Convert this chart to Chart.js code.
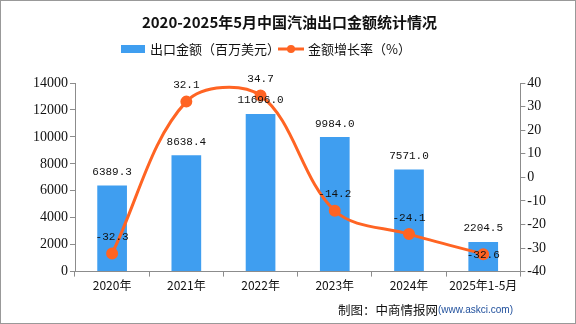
<!DOCTYPE html>
<html>
<head>
<meta charset="utf-8">
<script src="https://cdn.jsdelivr.net/npm/chart.js@4/dist/chart.umd.min.js"></script>
<style>
  html, body { margin: 0; padding: 0; background: #fff; }
  #wrap { width: 576px; height: 324px; position: relative; }
</style>
</head>
<body>
<div id="wrap"><canvas id="exportChart"></canvas></div>
<script>
// 年份与数值
var years = ['2020年', '2021年', '2022年', '2023年', '2024年', '2025年1-5月'];
var exportValue = [6389.3, 8638.4, 11696.0, 9984.0, 7571.0, 2204.5];   // 百万美元
var growthRate = [-32.3, 32.1, 34.7, -14.2, -24.1, -32.6];            // %

var BAR_COLOR = '#3f9ef0';
var LINE_COLOR = '#ff6423';
var AXIS_COLOR = '#8c8c8c';
var CJK = '"Noto Sans CJK SC", sans-serif';

function plain(v) { return String(v); }

// 图例、数值标签、来源、外框
var decorPlugin = {
  id: 'decor',
  afterDatasetsDraw: function(chart) {
    var ctx = chart.ctx;
    ctx.save();
    ctx.font = '11px "Liberation Mono", monospace';
    ctx.fillStyle = '#111';
    ctx.textAlign = 'center';
    ctx.textBaseline = 'bottom';

    var bars = chart.getDatasetMeta(0).data;
    for (var i = 0; i < bars.length; i++) {
      ctx.fillText(exportValue[i].toFixed(1), bars[i].x, bars[i].y - 8);
    }

    var pts = chart.getDatasetMeta(1).data;
    for (var j = 0; j < pts.length; j++) {
      var last = j === pts.length - 1;
      ctx.textBaseline = last ? 'middle' : 'bottom';
      ctx.fillText(growthRate[j].toFixed(1), pts[j].x, last ? pts[j].y + 1 : pts[j].y - 11);
    }
    ctx.restore();
  },
  afterDraw: function(chart) {
    var ctx = chart.ctx;
    ctx.save();

    // 图例
    ctx.fillStyle = BAR_COLOR;
    ctx.fillRect(121, 45, 24, 8);
    ctx.font = '13px ' + CJK;
    ctx.fillStyle = '#111';
    ctx.textBaseline = 'middle';
    ctx.textAlign = 'left';
    ctx.fillText('出口金额（百万美元）', 150, 49);

    ctx.strokeStyle = LINE_COLOR;
    ctx.lineWidth = 3;
    ctx.beginPath();
    ctx.moveTo(278, 49);
    ctx.lineTo(304, 49);
    ctx.stroke();
    ctx.fillStyle = LINE_COLOR;
    ctx.beginPath();
    ctx.arc(291, 49, 4, 0, Math.PI * 2);
    ctx.fill();
    ctx.fillStyle = '#111';
    ctx.fillText('金额增长率（%）', 308, 49);

    // 来源
    ctx.textAlign = 'right';
    ctx.font = '10px "Liberation Sans", sans-serif';
    ctx.fillStyle = '#1f4f9c';
    var src = '(www.askci.com)';
    ctx.fillText(src, 513, 310);
    var w = ctx.measureText(src).width;
    ctx.font = '12.5px ' + CJK;
    ctx.fillStyle = '#111';
    ctx.fillText('制图：中商情报网', 513 - w, 310);

    // 外框
    ctx.strokeStyle = '#999';
    ctx.lineWidth = 1;
    ctx.strokeRect(0.5, 0.5, chart.width - 1, chart.height - 1);
    ctx.restore();
  }
};

new Chart(document.getElementById('exportChart'), {
  type: 'bar',
  data: {
    labels: years,
    datasets: [{
      label: '出口金额（百万美元）',
      data: exportValue,
      backgroundColor: BAR_COLOR,
      barPercentage: 0.4,
      categoryPercentage: 1,
      yAxisID: 'y',
      order: 2
    }, {
      type: 'line',
      label: '金额增长率（%）',
      data: growthRate,
      borderColor: LINE_COLOR,
      backgroundColor: LINE_COLOR,
      borderWidth: 3,
      tension: 0.35,
      pointRadius: 4.5,
      pointHoverRadius: 4.5,
      yAxisID: 'y1',
      order: 1
    }]
  },
  options: {
    responsive: true,
    maintainAspectRatio: false,
    animation: false,
    layout: { padding: { left: 31, right: 28, top: 0, bottom: 29 } },
    plugins: {
      legend: { display: false },
      tooltip: { enabled: false },
      title: {
        display: true,
        text: '2020-2025年5月中国汽油出口金额统计情况',
        color: '#111',
        font: { family: CJK, size: 15, weight: 'bold' },
        padding: { top: 13, bottom: 52 }
      }
    },
    scales: {
      x: {
        offset: true,
        grid: { display: true, drawOnChartArea: false, offset: true, color: AXIS_COLOR, tickLength: 5 },
        border: { color: AXIS_COLOR },
        ticks: { color: '#111', font: { family: CJK, size: 12 }, padding: 2, maxRotation: 0 }
      },
      y: {
        position: 'left',
        min: 0,
        max: 14000,
        ticks: { stepSize: 2000, callback: plain, color: '#111', font: { family: '"Liberation Serif", serif', size: 14 }, padding: 2 },
        grid: { display: true, drawOnChartArea: false, color: AXIS_COLOR, tickLength: 5 },
        border: { color: AXIS_COLOR }
      },
      y1: {
        position: 'right',
        min: -40,
        max: 40,
        ticks: { stepSize: 10, callback: plain, color: '#111', font: { family: '"Liberation Serif", serif', size: 14 }, padding: 2 },
        grid: { display: true, drawOnChartArea: false, color: AXIS_COLOR, tickLength: 5 },
        border: { color: AXIS_COLOR }
      }
    }
  },
  plugins: [decorPlugin]
});
</script>
</body>
</html>
